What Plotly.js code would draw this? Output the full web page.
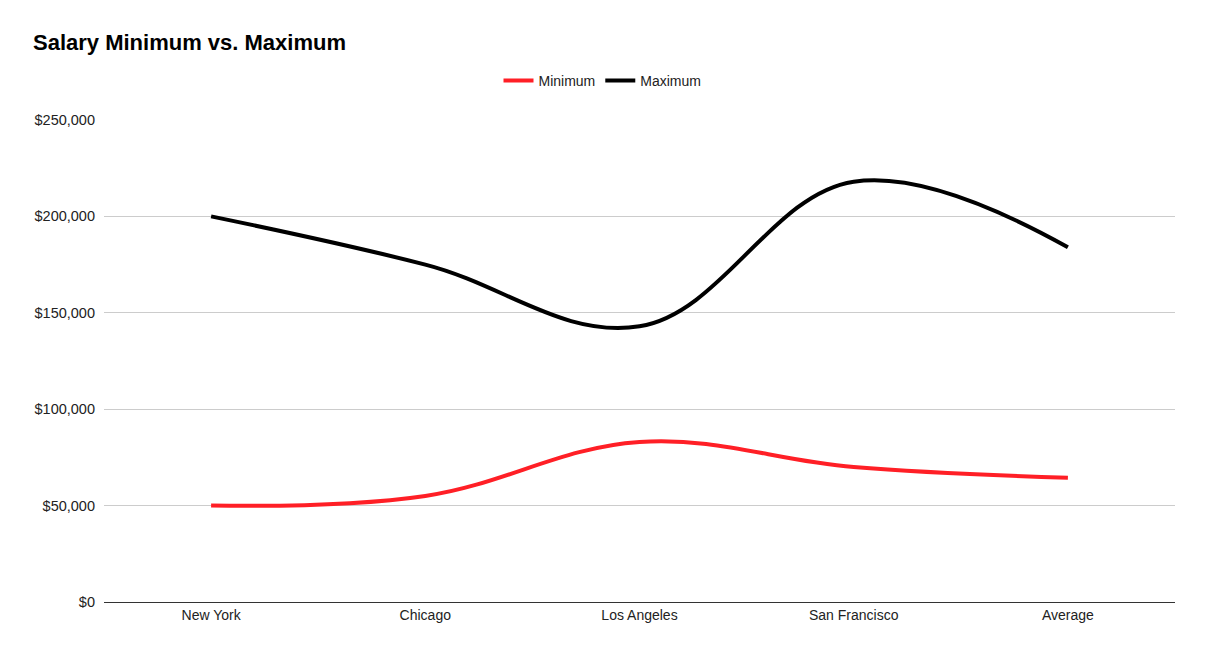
<!DOCTYPE html>
<html>
<head>
<meta charset="utf-8">
<script src="https://cdn.plot.ly/plotly-3.0.1.min.js"></script>
<style>html,body{margin:0;padding:0;background:#fff;}#chart{width:1205px;height:656px;}</style>
</head>
<body>
<div id="chart"></div>
<script>
const categories = ["New York", "Chicago", "Los Angeles", "San Francisco", "Average"];
const minimumValues = [50000, 55000, 83000, 70000, 64500];
const maximumValues = [200000, 175000, 143000, 218000, 184000];
const yTickValues = [0, 50000, 100000, 150000, 200000, 250000];
const yTickLabels = ["$0", "$50,000", "$100,000", "$150,000", "$200,000", "$250,000"];

const font = "Arial, 'Liberation Sans', sans-serif";

const traces = [
  {name: "Minimum", x: categories, y: minimumValues, type: "scatter", mode: "lines",
   line: {color: "#ff1f26", width: 4, shape: "spline", smoothing: 1.1}},
  {name: "Maximum", x: categories, y: maximumValues, type: "scatter", mode: "lines",
   line: {color: "#000000", width: 4, shape: "spline", smoothing: 1.1}}
];

const layout = {
  width: 1205, height: 656,
  margin: {l: 104, r: 30, t: 120, b: 54},
  paper_bgcolor: "#fff", plot_bgcolor: "#fff",
  font: {family: font, size: 14, color: "#222"},
  title: {text: "<b>Salary Minimum vs. Maximum</b>", x: 33/1205, xanchor: "left", xref: "container",
          y: 1 - 42/656, yref: "container", yanchor: "middle", font: {family: font, size: 22, color: "#000"}},
  showlegend: true,
  legend: {orientation: "h", x: 0.5, xanchor: "center", xref: "container", y: 1 - 81/656, yref: "container", yanchor: "middle",
           font: {family: font, size: 14, color: "#222"}, itemwidth: 30, tracegroupgap: 0},
  xaxis: {type: "category", range: [-0.5, 4.5], showgrid: false, zeroline: false,
          showline: true, linecolor: "#333", linewidth: 1, ticks: "", tickfont: {family: font, size: 14, color: "#222"}},
  yaxis: {range: [0, 250000], tickvals: yTickValues, ticktext: yTickLabels, showgrid: true, gridcolor: "#cccccc",
          gridwidth: 1, zeroline: false, showline: false, ticks: "", ticklabelstandoff: 8,
          tickfont: {family: font, size: 14.5, color: "#222"}, fixedrange: true}
};

Plotly.newPlot("chart", traces, layout, {displayModeBar: false, staticPlot: true});
</script>
</body>
</html>
